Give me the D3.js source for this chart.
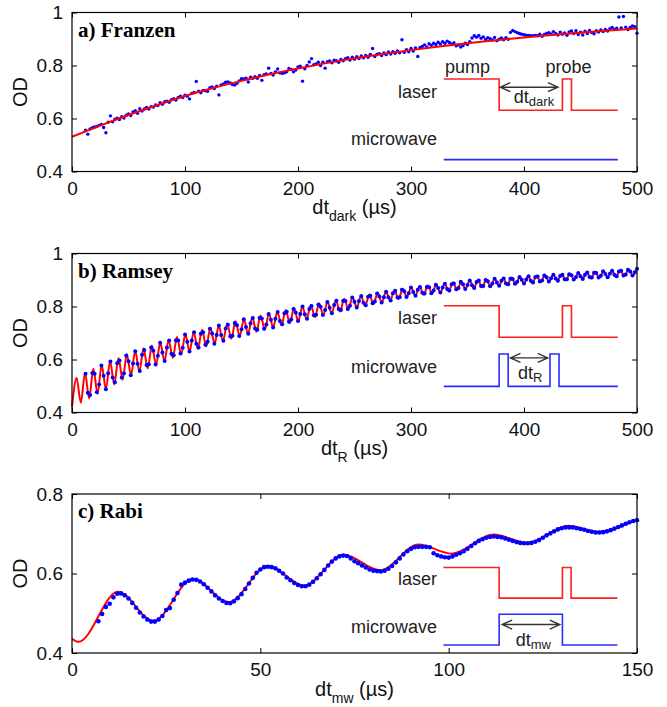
<!DOCTYPE html>
<html>
<head>
<meta charset="utf-8">
<script src="https://cdn.jsdelivr.net/npm/d3@7"></script>
<style>
  html, body { margin: 0; padding: 0; background: #fff; }
  svg { display: block; }
  .tick text { font-family: "Liberation Sans", Arial, sans-serif; font-size: 19px; fill: #111; }
</style>
</head>
<body>
<svg id="chart" width="667" height="707"></svg>
<script>
// ---------- a) Franzen: optical density vs dark time ----------
const franzenTime = d3.range(12, 501, 2);
const franzenOD = [
  0.556,0.541,0.561,0.565,0.568,0.570,0.574,0.578,0.566,0.546,
  0.586,0.610,0.588,0.597,0.601,0.596,0.607,0.602,0.612,0.617,
  0.611,0.625,0.629,0.620,0.637,0.628,0.636,0.642,0.636,0.645,
  0.643,0.651,0.649,0.660,0.654,0.663,0.665,0.661,0.671,0.675,
  0.670,0.679,0.684,0.679,0.688,0.684,0.674,0.695,0.698,0.740,
  0.703,0.697,0.706,0.705,0.703,0.716,0.719,0.713,0.722,0.689,
  0.727,0.730,0.737,0.738,0.734,0.728,0.726,0.733,0.742,0.750,
  0.749,0.752,0.738,0.756,0.752,0.758,0.752,0.762,0.744,0.765,
  0.768,0.790,0.770,0.764,0.776,0.787,0.772,0.771,0.772,0.776,
  0.789,0.785,0.776,0.783,0.795,0.797,0.741,0.788,0.800,0.813,
  0.826,0.803,0.806,0.812,0.800,0.812,0.790,0.814,0.817,0.810,
  0.820,0.818,0.812,0.823,0.818,0.826,0.829,0.821,0.831,0.824,
  0.833,0.826,0.836,0.829,0.838,0.831,0.842,0.864,0.834,0.843,
  0.845,0.838,0.847,0.841,0.851,0.843,0.852,0.846,0.855,0.848,
  0.897,0.850,0.860,0.852,0.864,0.855,0.866,0.834,0.868,0.872,
  0.878,0.870,0.882,0.876,0.884,0.879,0.888,0.881,0.890,0.884,
  0.892,0.887,0.880,0.886,0.874,0.878,0.870,0.875,0.884,0.879,
  0.890,0.904,0.912,0.907,0.913,0.903,0.908,0.898,0.905,0.901,
  0.896,0.906,0.893,0.899,0.904,0.897,0.905,0.899,0.925,0.932,
  0.928,0.924,0.921,0.918,0.916,0.914,0.913,0.912,0.912,0.913,
  0.912,0.918,0.910,0.917,0.921,0.924,0.919,0.928,0.921,0.915,
  0.926,0.918,0.923,0.914,0.927,0.930,0.921,0.931,0.917,0.926,
  0.915,0.929,0.921,0.932,0.924,0.920,0.931,0.926,0.934,0.928,
  0.936,0.930,0.939,0.944,0.936,0.941,0.983,0.942,0.985,0.945,
  0.936,0.944,0.949,0.946,0.922
];
const franzenFitTime = d3.range(0, 501, 25);
const franzenFitOD = [
  0.531,0.573,0.613,0.650,0.685,0.715,0.742,0.767,0.789,0.809,
  0.827,0.843,0.858,0.872,0.884,0.895,0.906,0.915,0.924,0.932,0.940
];

// ---------- b) Ramsey: optical density vs free precession time ----------
const ramseyTime = d3.range(12, 501, 2);
const ramseyOD = [
  0.546,0.475,0.466,0.549,0.546,0.476,0.506,0.577,0.539,0.488,
  0.548,0.592,0.532,0.514,0.586,0.596,0.532,0.548,0.615,0.593,
  0.541,0.585,0.631,0.584,0.557,0.618,0.636,0.579,0.582,0.645,
  0.633,0.581,0.614,0.663,0.626,0.594,0.645,0.672,0.622,0.616,
  0.673,0.672,0.623,0.644,0.694,0.667,0.630,0.672,0.703,0.659,
  0.645,0.697,0.703,0.656,0.667,0.716,0.698,0.659,0.692,0.728,
  0.692,0.671,0.717,0.731,0.688,0.690,0.738,0.729,0.689,0.714,
  0.752,0.723,0.697,0.737,0.757,0.717,0.712,0.757,0.755,0.716,
  0.732,0.772,0.750,0.721,0.754,0.779,0.745,0.733,0.775,0.780,
  0.742,0.751,0.791,0.777,0.745,0.772,0.800,0.771,0.754,0.791,
  0.802,0.767,0.769,0.807,0.799,0.768,0.787,0.817,0.795,0.775,
  0.806,0.822,0.791,0.787,0.822,0.821,0.791,0.803,0.834,0.818,
  0.796,0.821,0.840,0.814,0.805,0.837,0.841,0.812,0.819,0.849,
  0.838,0.815,0.835,0.856,0.835,0.823,0.850,0.859,0.834,0.835,
  0.863,0.858,0.836,0.850,0.872,0.855,0.841,0.863,0.874,0.852,
  0.849,0.874,0.873,0.850,0.860,0.882,0.870,0.853,0.872,0.886,
  0.866,0.860,0.884,0.887,0.865,0.870,0.893,0.884,0.866,0.881,
  0.898,0.880,0.870,0.892,0.898,0.877,0.877,0.900,0.895,0.876,
  0.887,0.905,0.891,0.878,0.897,0.906,0.887,0.884,0.905,0.904,
  0.886,0.893,0.911,0.901,0.887,0.902,0.914,0.897,0.891,0.911,
  0.913,0.894,0.898,0.917,0.910,0.894,0.907,0.920,0.906,0.897,
  0.915,0.920,0.903,0.903,0.922,0.918,0.902,0.911,0.926,0.914,
  0.904,0.920,0.928,0.911,0.909,0.927,0.926,0.909,0.916,0.933,
  0.923,0.910,0.924,0.935,0.920,0.914,0.932,0.935,0.917,0.921,
  0.939,0.932,0.917,0.929,0.942
];
// Fit curve sampled at the fringe extrema (half period 3.7 µs)
const ramseyFitTime = [0].concat(d3.range(1, 135).map(n => 0.4 + 3.7 * n), [500]);
const ramseyFitOD = [
  0.421,0.530,0.437,0.549,0.453,0.565,0.471,0.579,0.488,0.593,
  0.506,0.606,0.524,0.620,0.541,0.632,0.554,0.642,0.567,0.653,
  0.580,0.664,0.593,0.674,0.606,0.685,0.619,0.695,0.630,0.703,
  0.640,0.712,0.649,0.720,0.659,0.728,0.669,0.736,0.678,0.744,
  0.688,0.752,0.696,0.759,0.705,0.766,0.713,0.773,0.721,0.780,
  0.729,0.787,0.737,0.794,0.745,0.800,0.752,0.806,0.760,0.812,
  0.767,0.817,0.774,0.823,0.781,0.829,0.789,0.835,0.796,0.840,
  0.802,0.845,0.809,0.851,0.815,0.856,0.822,0.861,0.828,0.867,
  0.835,0.872,0.840,0.876,0.844,0.879,0.849,0.883,0.853,0.887,
  0.857,0.891,0.862,0.894,0.866,0.898,0.869,0.900,0.872,0.902,
  0.875,0.905,0.878,0.907,0.881,0.909,0.884,0.912,0.887,0.914,
  0.889,0.916,0.892,0.918,0.894,0.920,0.897,0.922,0.899,0.924,
  0.901,0.926,0.904,0.929,0.906,0.931,0.908,0.933,0.910,0.935,
  0.912,0.938,0.915,0.940,0.917,0.942
];

// ---------- c) Rabi: optical density vs microwave pulse length ----------
const rabiTime = d3.range(7, 151, 1);
const rabiOD = [
  0.480,0.498,0.516,0.524,0.540,0.549,0.550,0.545,0.537,0.526,
  0.514,0.502,0.492,0.484,0.479,0.479,0.484,0.493,0.508,0.513,
  0.534,0.551,0.572,0.577,0.582,0.585,0.584,0.580,0.573,0.564,
  0.555,0.545,0.537,0.531,0.526,0.525,0.530,0.538,0.548,0.561,
  0.575,0.589,0.602,0.610,0.616,0.617,0.616,0.613,0.607,0.600,
  0.590,0.583,0.576,0.571,0.568,0.568,0.572,0.579,0.588,0.598,
  0.609,0.620,0.630,0.638,0.643,0.645,0.644,0.638,0.631,0.626,
  0.620,0.615,0.610,0.607,0.606,0.605,0.607,0.612,0.619,0.628,
  0.638,0.648,0.656,0.662,0.666,0.667,0.667,0.667,0.666,0.651,
  0.646,0.643,0.641,0.640,0.643,0.647,0.651,0.656,0.662,0.669,
  0.676,0.682,0.686,0.690,0.692,0.693,0.692,0.691,0.688,0.685,
  0.682,0.679,0.677,0.676,0.676,0.677,0.680,0.684,0.690,0.696,
  0.701,0.706,0.711,0.714,0.716,0.716,0.716,0.714,0.712,0.710,
  0.707,0.705,0.703,0.703,0.704,0.706,0.709,0.713,0.717,0.721,
  0.725,0.729,0.732,0.734
];
// Fit curve sampled at its turning points
const rabiFitTime = [0, 1.7, 12.2, 21.6, 32.1, 41.6, 52.0, 61.6, 72.2, 81.8, 92.0, 100.8, 111.9, 120.8, 131.8, 139.8, 150];
const rabiFitOD = [0.436, 0.428, 0.554, 0.481, 0.586, 0.528, 0.619, 0.570, 0.647, 0.608, 0.673, 0.650, 0.698, 0.677, 0.720, 0.705, 0.736];

// ---------- axis ticks ----------
const timeTicks500 = [0, 100, 200, 300, 400, 500];
const timeTicks150 = [0, 50, 100, 150];
const odTicksAB = [0.4, 0.6, 0.8, 1];
const odTicksC = [0.4, 0.6, 0.8];

// ---------- pulse-sequence schematics (time, OD) ----------
const franzenLaser = [[329,0.749],[378,0.749],[378,0.631],[434,0.631],[434,0.749],[442,0.749],[442,0.631],[483,0.631]];
const franzenMicrowave = [[329,0.445],[483,0.445]];
const franzenArrow = [379, 430, 0.718];

const ramseyLaser = [[329,0.803],[378,0.803],[378,0.684],[434,0.684],[434,0.803],[442,0.803],[442,0.684],[483,0.684]];
const ramseyMicrowave = [[329,0.4985],[378,0.4985],[378,0.621],[386,0.621],[386,0.4985],[423,0.4985],[423,0.621],[431,0.621],[431,0.4985],[483,0.4985]];
const ramseyArrow = [388, 421, 0.606];

const rabiLaser = [[98.6,0.615],[113.4,0.615],[113.4,0.538],[130.2,0.538],[130.2,0.615],[132.5,0.615],[132.5,0.538],[144.8,0.538]];
const rabiMicrowave = [[98.6,0.42],[113.4,0.42],[113.4,0.4975],[130.2,0.4975],[130.2,0.42],[144.8,0.42]];
const rabiArrow = [114.2, 129.5, 0.4716];

// ---------- layout ----------
const PLOT_L = 72, PLOT_R = 637, PLOT_H = 159;
const SANS = '"Liberation Sans", Arial, sans-serif';
const SERIF = '"Liberation Serif", "Times New Roman", serif';
const RED = "#ff0000", BLUE = "#0000ff";

const panels = [
  {
    top: 12.5, title: "a) Franzen", sub: "dark", xMax: 500, xTicks: timeTicks500,
    yDomain: [0.4, 1], yTicks: odTicksAB,
    dotT: franzenTime, dotV: franzenOD, dotR: 1.7,
    fitT: franzenFitTime, fitV: franzenFitOD, fitOnTop: true,
    laser: franzenLaser, microwave: franzenMicrowave, arrow: franzenArrow,
    notes: [
      { text: "pump", t: 330, v: 0.773, anchor: "start" },
      { text: "probe", t: 419, v: 0.773, anchor: "start" },
      { text: "laser", t: 323, v: 0.679, anchor: "end" },
      { text: "microwave", t: 323, v: 0.500, anchor: "end" }
    ],
    dtLabel: { t: 391, v: 0.657, sub: "dark" }
  },
  {
    top: 253.5, title: "b) Ramsey", sub: "R", xMax: 500, xTicks: timeTicks500,
    yDomain: [0.4, 1], yTicks: odTicksAB,
    dotT: ramseyTime, dotV: ramseyOD, dotR: 2.0,
    fitT: ramseyFitTime, fitV: ramseyFitOD, fitOnTop: false,
    laser: ramseyLaser, microwave: ramseyMicrowave, arrow: ramseyArrow,
    notes: [
      { text: "laser", t: 323, v: 0.735, anchor: "end" },
      { text: "microwave", t: 323, v: 0.548, anchor: "end" }
    ],
    dtLabel: { t: 394.7, v: 0.5265, sub: "R" }
  },
  {
    top: 494, title: "c) Rabi", sub: "mw", xMax: 150, xTicks: timeTicks150,
    yDomain: [0.4, 0.8], yTicks: odTicksC,
    dotT: rabiTime, dotV: rabiOD, dotR: 2.3,
    fitT: rabiFitTime, fitV: rabiFitOD, fitOnTop: false,
    laser: rabiLaser, microwave: rabiMicrowave, arrow: rabiArrow,
    notes: [
      { text: "laser", t: 96.9, v: 0.5707, anchor: "end" },
      { text: "microwave", t: 96.9, v: 0.4504, anchor: "end" }
    ],
    dtLabel: { t: 117.8, v: 0.417, sub: "mw" }
  }
];

const svg = d3.select("#chart");
svg.append("rect").attr("width", 667).attr("height", 707).attr("fill", "#fff");

panels.forEach(drawPanel);

function drawPanel(p) {
  const top = p.top, bottom = p.top + PLOT_H;
  const x = d3.scaleLinear().domain([0, p.xMax]).range([PLOT_L, PLOT_R]);
  const y = d3.scaleLinear().domain(p.yDomain).range([bottom, top]);
  const g = svg.append("g");

  const fitLine = d3.line().x(d => x(d[0])).y(d => y(d[1])).curve(d3.curveMonotoneX);
  const drawFit = () => g.append("path")
    .datum(d3.zip(p.fitT, p.fitV))
    .attr("d", fitLine)
    .attr("fill", "none").attr("stroke", RED).attr("stroke-width", 2);
  const drawDots = () => g.append("g").selectAll("circle")
    .data(d3.zip(p.dotT, p.dotV))
    .join("circle")
    .attr("cx", d => x(d[0])).attr("cy", d => y(d[1])).attr("r", p.dotR)
    .attr("fill", BLUE);

  if (p.fitOnTop) { drawDots(); drawFit(); } else { drawFit(); drawDots(); }

  // pulse sequence schematic
  const seq = d3.line().x(d => x(d[0])).y(d => y(d[1]));
  g.append("path").datum(p.laser).attr("d", seq)
    .attr("fill", "none").attr("stroke", "#ff1f1f").attr("stroke-width", 1.6);
  g.append("path").datum(p.microwave).attr("d", seq)
    .attr("fill", "none").attr("stroke", "#2b2bff").attr("stroke-width", 1.6);

  const ax1 = x(p.arrow[0]), ax2 = x(p.arrow[1]), ay = y(p.arrow[2]);
  g.append("path")
    .attr("d", `M${ax1},${ay}H${ax2}` +
               `M${ax1 + 10},${ay - 4.5}L${ax1},${ay}L${ax1 + 10},${ay + 4.5}` +
               `M${ax2 - 10},${ay - 4.5}L${ax2},${ay}L${ax2 - 10},${ay + 4.5}`)
    .attr("fill", "none").attr("stroke", "#333").attr("stroke-width", 1.4);

  p.notes.forEach(n => {
    g.append("text").attr("x", x(n.t)).attr("y", y(n.v))
      .attr("text-anchor", n.anchor)
      .style("font-family", SANS).style("font-size", "18px").style("fill", "#222")
      .text(n.text);
  });
  const dt = g.append("text").attr("x", x(p.dtLabel.t)).attr("y", y(p.dtLabel.v))
    .style("font-family", SANS).style("font-size", "18px").style("fill", "#222");
  dt.append("tspan").text("dt");
  dt.append("tspan").attr("dy", 3).style("font-size", "13px").text(p.dtLabel.sub);

  // axes: inward ticks on all four sides
  const tick = 5;
  g.append("g").attr("transform", `translate(0,${bottom})`)
    .call(d3.axisBottom(x).tickValues(p.xTicks).tickSizeInner(-tick).tickSizeOuter(0)
      .tickPadding(10).tickFormat(d3.format("d")))
    .call(a => a.select(".domain").remove());
  g.append("g").attr("transform", `translate(${PLOT_L},0)`)
    .call(d3.axisLeft(y).tickValues(p.yTicks).tickSizeInner(-tick).tickSizeOuter(0)
      .tickPadding(9).tickFormat(d3.format("~g")))
    .call(a => a.select(".domain").remove());
  g.append("g").attr("transform", `translate(0,${top})`)
    .call(d3.axisTop(x).tickValues(p.xTicks).tickSizeInner(-tick).tickSizeOuter(0).tickFormat(""))
    .call(a => a.select(".domain").remove());
  g.append("g").attr("transform", `translate(${PLOT_R},0)`)
    .call(d3.axisRight(y).tickValues(p.yTicks).tickSizeInner(-tick).tickSizeOuter(0).tickFormat(""))
    .call(a => a.select(".domain").remove());

  g.append("rect").attr("x", PLOT_L).attr("y", top)
    .attr("width", PLOT_R - PLOT_L).attr("height", PLOT_H)
    .attr("fill", "none").attr("stroke", "#000").attr("stroke-width", 1.2);

  // panel title
  g.append("text").attr("x", 78).attr("y", top + 24)
    .style("font-family", SERIF).style("font-weight", "bold").style("font-size", "21px")
    .style("fill", "#000").text(p.title);

  // axis titles
  const xl = g.append("text").attr("x", (PLOT_L + PLOT_R) / 2).attr("y", bottom + 42.5)
    .attr("text-anchor", "middle")
    .style("font-family", SANS).style("font-size", "20px").style("fill", "#111");
  xl.append("tspan").text("dt");
  xl.append("tspan").attr("dy", 7).style("font-size", "14px").text(p.sub);
  xl.append("tspan").attr("dy", -7).text(" (µs)");

  g.append("text")
    .attr("transform", `translate(27,${top + PLOT_H / 2}) rotate(-90)`)
    .attr("text-anchor", "middle")
    .style("font-family", SANS).style("font-size", "20px").style("fill", "#111")
    .text("OD");
}
</script>
</body>
</html>
